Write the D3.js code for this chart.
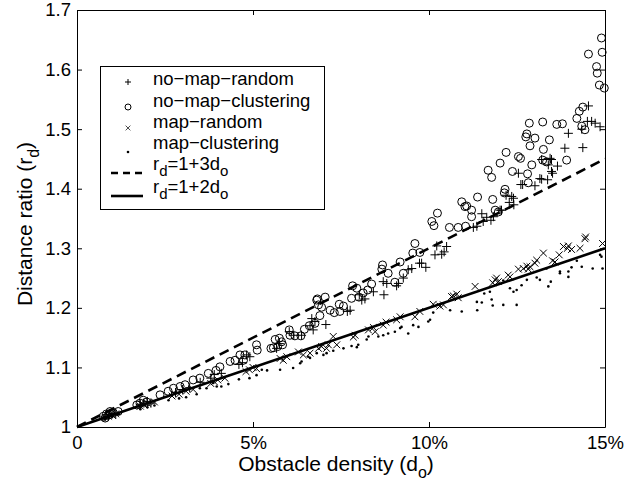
<!DOCTYPE html>
<html>
<head>
<meta charset="utf-8">
<script src="https://cdn.jsdelivr.net/npm/d3@7"></script>
<style>
  body { margin: 0; background: #fff; }
  svg { font-family: "Liberation Sans", Arial, Helvetica, sans-serif; }
</style>
</head>
<body>
<div id="chart"></div>
<script>
// obstacle density in %, distance ratio
const noMapRandom = [
  [0.8,1.017],[0.9,1.02],[1.0,1.022],[1.1,1.021],[1.8,1.038],[1.9,1.04],[2.0,1.043],[2.1,1.04],
  [2.8,1.058],[3.0,1.063],[3.2,1.066],[3.5,1.075],[3.8,1.082],[3.9,1.088],[4.1,1.09],[4.6,1.105],
  [4.7,1.108],[4.82,1.121],[4.91,1.118],[5.67,1.132],[5.75,1.140],[6.03,1.160],[6.16,1.154],
  [6.38,1.154],[6.62,1.170],[6.71,1.163],[6.67,1.182],[6.76,1.177],[7.07,1.172],[7.68,1.194],
  [7.76,1.196],[8.02,1.222],[8.09,1.213],[8.18,1.215],[8.42,1.227],[8.7,1.244],[8.8,1.241],
  [8.72,1.222],[9.08,1.237],[9.13,1.241],[9.27,1.250],[9.41,1.264],[9.51,1.266],[9.73,1.275],
  [9.79,1.275],[9.91,1.268],[10.17,1.289],[10.22,1.304],[10.36,1.290],[10.43,1.294],[10.5,1.303],
  [11.26,1.335],[11.36,1.337],[11.5,1.358],[11.54,1.345],[11.64,1.352],[11.76,1.347],[11.83,1.353],
  [12.02,1.364],[12.06,1.364],[12.19,1.389],[12.28,1.377],[12.35,1.387],[12.41,1.373],[12.4,1.384],
  [12.54,1.426],[12.61,1.407],[12.66,1.407],[13.01,1.405],[13.15,1.417],[13.2,1.416],[13.37,1.415],
  [13.48,1.449],[13.39,1.440],[13.65,1.438],[13.48,1.429],[13.51,1.426],[13.2,1.449],[13.44,1.451],
  [13.86,1.468],[14.37,1.469],[13.96,1.493],[14.34,1.500],[14.53,1.539],[14.5,1.513],[14.62,1.513],
  [14.72,1.510],[14.86,1.504]
]
const noMapClustering = [
  [0.75,1.018],[0.84,1.022],[0.94,1.026],[1.03,1.024],[1.17,1.026],[0.8,1.015],[0.9,1.02],
  [1.7,1.037],[1.79,1.040],[1.88,1.045],[1.98,1.042],[2.36,1.054],[2.59,1.060],[2.74,1.065],
  [2.93,1.068],[3.07,1.071],[3.3,1.079],[3.49,1.082],[3.73,1.090],[3.95,1.095],[4.06,1.101],
  [4.35,1.110],[4.49,1.112],[4.63,1.121],[4.73,1.112],[4.77,1.121],[5.1,1.138],[5.12,1.129],
  [5.51,1.132],[5.58,1.133],[5.63,1.147],[5.7,1.135],[5.75,1.149],[5.81,1.143],[5.84,1.138],
  [6.03,1.163],[6.05,1.154],[6.19,1.153],[6.36,1.153],[6.46,1.164],[6.6,1.170],[6.76,1.174],
  [6.81,1.213],[6.86,1.205],[6.9,1.187],[6.83,1.215],[7.05,1.218],[6.95,1.201],[7.45,1.206],
  [7.57,1.203],[7.19,1.196],[7.31,1.192],[7.47,1.194],[7.83,1.237],[7.95,1.233],[8.37,1.240],
  [8.26,1.230],[8.13,1.225],[7.8,1.216],[8.01,1.218],[8.68,1.272],[8.66,1.265],[8.84,1.258],
  [9.18,1.277],[9.27,1.258],[9.03,1.243],[9.6,1.308],[9.54,1.292],[9.74,1.293],[10.24,1.359],
  [10.08,1.345],[10.14,1.338],[10.58,1.335],[10.83,1.335],[11.04,1.337],[10.93,1.378],
  [11.07,1.371],[11.02,1.370],[11.21,1.364],[11.38,1.386],[11.81,1.382],[11.88,1.364],
  [11.97,1.361],[11.21,1.353],[11.68,1.431],[11.78,1.419],[12.37,1.429],[12.8,1.425],
  [12.82,1.410],[12.16,1.399],[12.14,1.393],[12.02,1.443],[12.92,1.440],[13.23,1.448],
  [13.34,1.445],[12.19,1.461],[12.54,1.454],[12.6,1.451],[13.91,1.448],[12.85,1.510],
  [13.23,1.512],[13.63,1.508],[13.79,1.509],[12.78,1.492],[12.75,1.487],[13.01,1.485],
  [13.42,1.482],[12.87,1.472],[13.25,1.466],[14.37,1.537],[14.27,1.530],[14.2,1.518],
  [14.34,1.505],[14.43,1.499],[14.9,1.653],[14.92,1.629],[14.53,1.626],[14.76,1.605],
  [14.78,1.594],[14.84,1.574],[14.98,1.569]
]
const mapRandom = [
  [0.8,1.016],[0.9,1.018],[1.0,1.02],[1.1,1.022],[1.8,1.035],[1.9,1.037],[2.0,1.04],[2.2,1.042],
  [2.7,1.052],[2.9,1.055],[3.1,1.06],[3.3,1.063],[3.8,1.073],[3.9,1.076],[4.0,1.079],[4.2,1.082],
  [4.8,1.093],[4.9,1.096],[5.0,1.1],[5.1,1.098],[5.77,1.115],[5.86,1.112],[5.96,1.118],[6.29,1.126],
  [6.43,1.121],[6.62,1.124],[6.86,1.132],[6.95,1.135],[7.09,1.132],[7.14,1.138],[7.28,1.152],
  [7.38,1.138],[7.85,1.151],[7.9,1.154],[8.28,1.163],[8.42,1.167],[8.47,1.160],[8.7,1.171],
  [8.78,1.176],[9.08,1.180],[9.18,1.185],[9.6,1.185],[9.74,1.194],[10.12,1.206],[10.31,1.203],
  [10.41,1.205],[10.64,1.219],[10.69,1.220],[10.79,1.223],[10.83,1.217],[11.31,1.236],[11.81,1.242],
  [11.88,1.247],[11.92,1.250],[11.97,1.244],[12.25,1.255],[12.3,1.252],[12.54,1.265],[12.68,1.266],
  [12.78,1.270],[12.82,1.265],[12.87,1.269],[13.01,1.275],[13.06,1.280],[13.25,1.292],[13.51,1.279],
  [13.58,1.277],[13.7,1.289],[13.82,1.303],[13.93,1.300],[13.96,1.304],[14.05,1.298],[14.29,1.300],
  [14.43,1.316],[14.45,1.319],[14.93,1.308]
]
const mapClustering = [
  [0.8,1.013],[0.9,1.015],[1.0,1.017],[1.8,1.03],[2.0,1.033],[2.2,1.036],[2.6,1.045],[2.9,1.048],
  [3.1,1.05],[3.4,1.055],[3.49,1.065],[3.68,1.065],[3.87,1.074],[3.97,1.068],[4.1,1.068],[4.3,1.072],
  [4.6,1.08],[4.9,1.082],[5.1,1.087],[5.25,1.096],[5.4,1.095],[5.77,1.096],[6.14,1.099],[6.34,1.107],
  [6.38,1.110],[6.57,1.118],[6.62,1.116],[6.81,1.124],[7.0,1.121],[7.09,1.124],[7.28,1.128],
  [7.57,1.132],[7.8,1.136],[7.95,1.134],[7.99,1.138],[8.23,1.147],[8.28,1.152],[8.56,1.152],
  [8.7,1.154],[8.84,1.157],[9.03,1.160],[9.18,1.166],[9.22,1.168],[9.41,1.157],[9.55,1.171],
  [9.7,1.168],[9.98,1.177],[10.03,1.180],[10.12,1.192],[10.6,1.196],[10.93,1.194],[11.36,1.210],
  [11.37,1.196],[11.5,1.209],[11.57,1.224],[11.73,1.227],[11.78,1.214],[11.81,1.204],[12.11,1.205],
  [12.11,1.246],[12.3,1.233],[12.4,1.227],[12.49,1.230],[12.49,1.205],[12.63,1.238],[12.78,1.247],
  [13.06,1.251],[13.15,1.247],[13.34,1.266],[13.39,1.236],[13.46,1.244],[13.72,1.261],[13.72,1.258],
  [13.96,1.261],[13.96,1.252],[14.05,1.268],[14.2,1.279],[14.34,1.269],[14.65,1.266],[14.86,1.289],
  [14.9,1.286],[14.93,1.266]
]
// reference lines, endpoints at 0 and 15 %
const lineX = [0, 15]
const line3 = [1, 1.45]
const line2 = [1, 1.3]

const xTicks = [0, 5, 10, 15]
const xTickLabels = ['0', '5%', '10%', '15%']
const yTicks = [1, 1.1, 1.2, 1.3, 1.4, 1.5, 1.6, 1.7]
const yTickLabels = ['1', '1.1', '1.2', '1.3', '1.4', '1.5', '1.6', '1.7']

const legendLabels = ['no\u2212map\u2212random', 'no\u2212map\u2212clustering', 'map\u2212random', 'map\u2212clustering']

const width = 639
const height = 483
const margin = { left: 77, right: 34, top: 10, bottom: 56 }

const svg = d3.select('#chart').append('svg')
  .attr('width', width)
  .attr('height', height)

const x = d3.scaleLinear().domain([0, 15]).range([margin.left, width - margin.right])
const y = d3.scaleLinear().domain([1, 1.7]).range([height - margin.bottom, margin.top])

const tickLen = 5
const fmtX = (d, i) => xTickLabels[i]
const fmtY = (d, i) => yTickLabels[i]

svg.append('g')
  .attr('transform', `translate(0,${y(1)})`)
  .call(d3.axisBottom(x).tickValues(xTicks).tickFormat(fmtX).tickSizeInner(-tickLen).tickSizeOuter(0).tickPadding(9))
svg.append('g')
  .attr('transform', `translate(${x(0)},0)`)
  .call(d3.axisLeft(y).tickValues(yTicks).tickFormat(fmtY).tickSizeInner(-tickLen).tickSizeOuter(0).tickPadding(6))
svg.append('g')
  .attr('transform', `translate(0,${y(1.7)})`)
  .call(d3.axisTop(x).tickValues(xTicks).tickFormat('').tickSizeInner(-tickLen).tickSizeOuter(0))
svg.append('g')
  .attr('transform', `translate(${x(15)},0)`)
  .call(d3.axisRight(y).tickValues(yTicks).tickFormat('').tickSizeInner(-tickLen).tickSizeOuter(0))

svg.selectAll('.domain').attr('stroke', '#000').attr('stroke-width', 1)
svg.selectAll('.tick line').attr('stroke', '#000')
svg.selectAll('.tick text').attr('font-size', 18.5).attr('fill', '#000')
  .attr('font-family', '"Liberation Sans", Arial, sans-serif')

// reference lines
const lineGen = d3.line().x(d => x(d[0])).y(d => y(d[1]))
svg.append('path')
  .datum(lineX.map((v, i) => [v, line3[i]]))
  .attr('d', lineGen)
  .attr('fill', 'none').attr('stroke', '#000').attr('stroke-width', 2.6)
  .attr('stroke-dasharray', '10,6')
svg.append('path')
  .datum(lineX.map((v, i) => [v, line2[i]]))
  .attr('d', lineGen)
  .attr('fill', 'none').attr('stroke', '#000').attr('stroke-width', 2.6)

// markers
const plusPath = 'M-4.5,0H4.5M0,-4.5V4.5'
const crossPath = 'M-3.4,-3.4L3.4,3.4M-3.4,3.4L3.4,-3.4'

const drawPlus = (g, data) => g.selectAll(null).data(data).enter().append('path')
  .attr('d', plusPath)
  .attr('transform', d => `translate(${x(d[0])},${y(d[1])})`)
  .attr('stroke', '#000').attr('stroke-width', 1).attr('fill', 'none')
const drawCross = (g, data) => g.selectAll(null).data(data).enter().append('path')
  .attr('d', crossPath)
  .attr('transform', d => `translate(${x(d[0])},${y(d[1])})`)
  .attr('stroke', '#000').attr('stroke-width', 1).attr('fill', 'none')
const drawCircle = (g, data) => g.selectAll(null).data(data).enter().append('circle')
  .attr('cx', d => x(d[0])).attr('cy', d => y(d[1])).attr('r', 4)
  .attr('stroke', '#000').attr('stroke-width', 1).attr('fill', 'none')
const drawDot = (g, data) => g.selectAll(null).data(data).enter().append('circle')
  .attr('cx', d => x(d[0])).attr('cy', d => y(d[1])).attr('r', 1.3)
  .attr('fill', '#000')

const plot = svg.append('g')
drawDot(plot.append('g'), mapClustering)
drawCross(plot.append('g'), mapRandom)
drawPlus(plot.append('g'), noMapRandom)
drawCircle(plot.append('g'), noMapClustering)

// legend
const lg = svg.append('g')
lg.append('rect')
  .attr('x', 100.5).attr('y', 66.5).attr('width', 224).attr('height', 143)
  .attr('fill', '#fff').attr('stroke', '#000').attr('stroke-width', 1)

const markY = [82, 107, 128, 152, 173, 196]
const textY = [85, 107, 128, 149]
const mx = 128
lg.append('path').attr('d', 'M-3,0H3M0,-3V3').attr('transform', `translate(${mx},${markY[0]})`)
  .attr('stroke', '#000').attr('fill', 'none')
lg.append('circle').attr('cx', mx).attr('cy', markY[1]).attr('r', 3).attr('fill', 'none').attr('stroke', '#000')
lg.append('path').attr('d', crossPath).attr('transform', `translate(${mx},${markY[2]}) scale(0.7)`)
  .attr('stroke', '#000').attr('fill', 'none')
lg.append('circle').attr('cx', mx).attr('cy', markY[3]).attr('r', 1.3).attr('fill', '#000')

lg.selectAll('text.lab').data(legendLabels).enter().append('text')
  .attr('class', 'lab')
  .attr('x', 153).attr('y', (d, i) => textY[i])
  .attr('font-size', 18.5)
  .text(d => d)

lg.append('line').attr('x1', 111).attr('x2', 143).attr('y1', markY[4]).attr('y2', markY[4])
  .attr('stroke', '#000').attr('stroke-width', 2.6).attr('stroke-dasharray', '7,5')
lg.append('line').attr('x1', 111).attr('x2', 143).attr('y1', markY[5]).attr('y2', markY[5])
  .attr('stroke', '#000').attr('stroke-width', 2.6)

const eqText = (yy, k) => {
  const t = lg.append('text').attr('x', 153).attr('y', yy).attr('font-size', 18.5)
  t.append('tspan').text('r')
  t.append('tspan').attr('dy', 6).attr('font-size', 15).text('d')
  t.append('tspan').attr('dy', -6).text('=1+' + k + 'd')
  t.append('tspan').attr('dy', 6).attr('font-size', 15).text('o')
}
eqText(170, 3)
eqText(193, 2)

// axis titles
const xt = svg.append('text')
  .attr('x', 336).attr('y', 471)
  .attr('text-anchor', 'middle')
  .attr('font-size', 21)
xt.append('tspan').text('Obstacle density (d')
xt.append('tspan').attr('dy', 7).attr('font-size', 16).text('o')
xt.append('tspan').attr('dy', -7).text(')')

const yt = svg.append('text')
  .attr('transform', 'translate(32,224) rotate(-90)')
  .attr('text-anchor', 'middle')
  .attr('font-size', 21)
yt.append('tspan').text('Distance ratio (r')
yt.append('tspan').attr('dy', 7).attr('font-size', 16).text('d')
yt.append('tspan').attr('dy', -7).text(')')
</script>
</body>
</html>
